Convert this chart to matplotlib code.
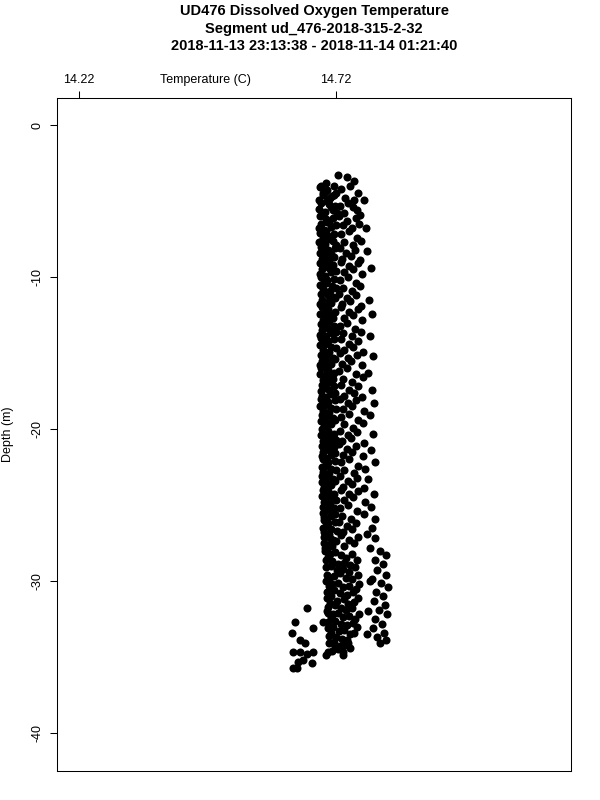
import matplotlib
matplotlib.use("Agg")
import matplotlib.pyplot as plt

plt.rcParams["font.family"] = ["Liberation Sans", "DejaVu Sans"]

title_lines = [
    "UD476 Dissolved Oxygen Temperature",
    "Segment ud_476-2018-315-2-32",
    "2018-11-13 23:13:38 - 2018-11-14 01:21:40",
]
x_ticks = [14.22, 14.72]
x_tick_labels = ["14.22", "14.72"]
y_ticks = [0, -10, -20, -30, -40]
x_label = "Temperature (C)"
y_label = "Depth (m)"

# (temperature C, depth m), grouped by region of the cloud
core_pts = [
    (14.700, -3.8), (14.690, -4.0), (14.695, -4.5), (14.716, -4.6),
    (14.688, -4.1), (14.702, -4.3), (14.715, -4.0), (14.694, -4.6), (14.709, -4.8), (14.720, -4.5), (14.686, -4.9), (14.698, -4.4), (14.712, -4.7), (14.705, -4.95),
    (14.690, -5.1), (14.703, -5.0), (14.717, -5.3), (14.687, -5.5), (14.699, -5.7), (14.711, -5.4), (14.721, -5.8), (14.693, -5.9), (14.707, -5.2), (14.714, -5.6),
    (14.688, -6.0), (14.700, -6.2), (14.713, -6.1), (14.691, -6.5), (14.706, -6.4), (14.719, -6.6), (14.686, -6.8), (14.697, -6.9), (14.710, -6.7), (14.703, -6.35),
    (14.689, -7.1), (14.701, -7.0), (14.716, -7.2), (14.694, -7.4), (14.708, -7.5), (14.687, -7.7), (14.699, -7.8), (14.713, -7.6), (14.720, -7.9), (14.705, -7.3),
    (14.690, -8.0), (14.704, -8.2), (14.718, -8.1), (14.688, -8.4), (14.697, -8.6), (14.711, -8.5), (14.693, -8.8), (14.707, -8.9), (14.715, -8.7), (14.700, -8.35),
    (14.689, -9.1), (14.702, -9.0), (14.714, -9.2), (14.692, -9.5), (14.706, -9.4), (14.719, -9.6), (14.688, -9.8), (14.699, -9.9), (14.711, -9.7), (14.696, -9.3),
    (14.691, -10.0), (14.703, -10.2), (14.716, -10.1), (14.689, -10.5), (14.700, -10.4), (14.712, -10.6), (14.694, -10.8), (14.708, -10.9), (14.720, -10.7), (14.697, -10.3),
    (14.690, -11.1), (14.701, -11.0), (14.713, -11.3), (14.693, -11.5), (14.706, -11.6), (14.688, -11.8), (14.698, -11.9), (14.710, -11.7), (14.718, -11.4), (14.704, -11.2),
    (14.692, -12.0), (14.705, -12.1), (14.717, -12.3), (14.689, -12.4), (14.699, -12.6), (14.711, -12.5), (14.694, -12.8), (14.707, -12.9), (14.714, -12.7), (14.701, -12.25),
    (14.690, -13.1), (14.702, -13.0), (14.715, -13.2), (14.693, -13.5), (14.706, -13.4), (14.719, -13.6), (14.689, -13.8), (14.700, -13.9), (14.712, -13.7), (14.697, -13.3),
    (14.691, -14.0), (14.704, -14.2), (14.716, -14.1), (14.688, -14.5), (14.699, -14.4), (14.710, -14.6), (14.694, -14.8), (14.707, -14.9), (14.719, -14.7), (14.701, -14.3),
    (14.690, -15.1), (14.703, -15.0), (14.713, -15.3), (14.692, -15.5), (14.705, -15.6), (14.689, -15.8), (14.698, -15.9), (14.711, -15.7), (14.717, -15.4), (14.701, -15.2),
    (14.691, -16.0), (14.704, -16.1), (14.716, -16.3), (14.689, -16.4), (14.700, -16.6), (14.712, -16.5), (14.695, -16.8), (14.708, -16.9), (14.714, -16.7), (14.702, -16.25),
    (14.692, -17.1), (14.702, -17.0), (14.715, -17.2), (14.690, -17.5), (14.706, -17.4), (14.718, -17.6), (14.693, -17.8), (14.700, -17.9), (14.711, -17.7), (14.697, -17.3),
    (14.691, -18.0), (14.705, -18.2), (14.717, -18.1), (14.689, -18.5), (14.699, -18.4), (14.710, -18.6), (14.694, -18.8), (14.707, -18.9), (14.720, -18.7), (14.702, -18.3),
    (14.692, -19.1), (14.703, -19.0), (14.714, -19.3), (14.690, -19.5), (14.705, -19.6), (14.696, -19.8), (14.699, -19.9), (14.711, -19.7), (14.717, -19.4), (14.701, -19.2),
    (14.693, -20.0), (14.704, -20.1), (14.716, -20.3), (14.691, -20.4), (14.700, -20.6), (14.712, -20.5), (14.695, -20.8), (14.708, -20.9), (14.719, -20.7), (14.702, -20.25),
    (14.692, -21.1), (14.702, -21.0), (14.715, -21.2), (14.694, -21.5), (14.706, -21.4), (14.718, -21.6), (14.693, -21.8), (14.700, -21.9), (14.711, -21.7), (14.697, -21.3),
    (14.694, -22.0), (14.705, -22.2), (14.717, -22.1), (14.692, -22.5), (14.699, -22.4), (14.710, -22.6), (14.695, -22.8), (14.707, -22.9), (14.720, -22.7), (14.703, -22.3),
    (14.693, -23.1), (14.703, -23.0), (14.714, -23.3), (14.692, -23.5), (14.705, -23.6), (14.697, -23.8), (14.700, -23.9), (14.711, -23.7), (14.718, -23.4), (14.701, -23.2),
    (14.694, -24.0), (14.704, -24.1), (14.716, -24.3), (14.693, -24.4), (14.700, -24.6), (14.712, -24.5), (14.696, -24.8), (14.708, -24.9), (14.719, -24.7), (14.702, -24.25),
    (14.695, -25.1), (14.703, -25.0), (14.715, -25.2), (14.694, -25.5), (14.706, -25.4), (14.718, -25.6), (14.696, -25.8), (14.701, -25.9), (14.711, -25.7), (14.698, -25.3),
    (14.696, -26.0), (14.705, -26.2), (14.717, -26.1), (14.695, -26.5), (14.700, -26.4), (14.710, -26.6), (14.697, -26.8), (14.707, -26.9), (14.721, -26.7), (14.703, -26.3),
    (14.697, -27.1), (14.704, -27.0), (14.714, -27.3), (14.696, -27.5), (14.706, -27.6), (14.699, -27.8), (14.702, -27.9), (14.712, -27.7), (14.719, -27.4), (14.709, -27.2),
]

lower_pts = [
    (14.699, -28.0), (14.708, -28.2), (14.718, -28.1), (14.729, -28.3), (14.740, -28.5), (14.751, -28.2), (14.700, -28.6), (14.712, -28.7), (14.724, -28.9), (14.735, -28.8), (14.747, -28.95), (14.704, -28.4), (14.760, -28.6),
    (14.700, -29.1), (14.710, -29.0), (14.721, -29.3), (14.733, -29.2), (14.745, -29.4), (14.756, -29.1), (14.702, -29.6), (14.715, -29.7), (14.727, -29.5), (14.739, -29.8), (14.750, -29.9), (14.706, -29.85), (14.762, -29.6),
    (14.701, -30.0), (14.712, -30.2), (14.723, -30.1), (14.734, -30.4), (14.746, -30.3), (14.758, -30.5), (14.703, -30.7), (14.716, -30.6), (14.728, -30.8), (14.741, -30.9), (14.753, -30.75), (14.707, -30.35), (14.765, -30.2),
    (14.702, -31.1), (14.711, -31.0), (14.722, -31.3), (14.735, -31.2), (14.744, -31.5), (14.755, -31.4), (14.704, -31.7), (14.717, -31.6), (14.729, -31.8), (14.740, -31.9), (14.751, -31.75), (14.709, -31.45), (14.763, -31.1),
    (14.703, -32.0), (14.713, -32.2), (14.724, -32.1), (14.733, -32.4), (14.745, -32.3), (14.757, -32.5), (14.705, -32.7), (14.718, -32.6), (14.730, -32.8), (14.742, -32.9), (14.752, -32.75), (14.710, -32.35), (14.764, -32.2),
    (14.704, -33.1), (14.714, -33.0), (14.725, -33.3), (14.736, -33.2), (14.747, -33.5), (14.706, -33.6), (14.719, -33.7), (14.731, -33.8), (14.742, -33.9), (14.755, -33.4), (14.711, -33.45), (14.760, -33.0),
    (14.707, -34.1), (14.716, -34.0), (14.728, -34.3), (14.738, -34.2), (14.748, -34.4), (14.712, -34.6), (14.723, -34.5), (14.733, -34.7), (14.744, -34.1), (14.700, -34.9),
]

right_pts = [
    (14.724, -3.3), (14.741, -3.4), (14.755, -3.7),
    (14.730, -4.2), (14.748, -4.0), (14.763, -4.5), (14.737, -4.8), (14.755, -4.9), (14.775, -4.9),
    (14.728, -5.3), (14.744, -5.1), (14.760, -5.6), (14.735, -5.8), (14.752, -5.4), (14.767, -5.9),
    (14.726, -6.0), (14.742, -6.3), (14.758, -6.1), (14.733, -6.6), (14.750, -6.8), (14.765, -6.5), (14.779, -6.8),
    (14.729, -7.2), (14.745, -7.0), (14.761, -7.4), (14.736, -7.7), (14.753, -7.9), (14.768, -7.6),
    (14.727, -8.1), (14.740, -8.4), (14.757, -8.2), (14.732, -8.8), (14.749, -8.6), (14.766, -8.9), (14.781, -8.3),
    (14.730, -9.0), (14.746, -9.3), (14.762, -9.1), (14.735, -9.7), (14.752, -9.5), (14.770, -9.8), (14.788, -9.4),
    (14.728, -10.2), (14.743, -10.0), (14.759, -10.4), (14.734, -10.7), (14.751, -10.9), (14.767, -10.6),
    (14.726, -11.1), (14.741, -11.4), (14.758, -11.2), (14.731, -11.8), (14.748, -11.6), (14.769, -11.9), (14.784, -11.5),
    (14.729, -12.0), (14.745, -12.3), (14.762, -12.1), (14.736, -12.7), (14.753, -12.5), (14.771, -12.8), (14.790, -12.4),
    (14.727, -13.2), (14.742, -13.0), (14.757, -13.4), (14.733, -13.7), (14.750, -13.9), (14.768, -13.6), (14.786, -13.9),
    (14.730, -14.1), (14.746, -14.4), (14.763, -14.2), (14.735, -14.8), (14.752, -14.6), (14.772, -14.9),
    (14.728, -15.0), (14.743, -15.3), (14.760, -15.1), (14.732, -15.7), (14.749, -15.5), (14.770, -15.8), (14.792, -15.2),
    (14.726, -16.2), (14.741, -16.0), (14.758, -16.4), (14.734, -16.7), (14.751, -16.9), (14.773, -16.6), (14.783, -16.3),
    (14.729, -17.1), (14.745, -17.4), (14.762, -17.2), (14.736, -17.8), (14.754, -17.6), (14.771, -17.9), (14.789, -17.4),
    (14.727, -18.0), (14.743, -18.3), (14.759, -18.1), (14.733, -18.7), (14.750, -18.5), (14.774, -18.8), (14.794, -18.3),
    (14.730, -19.2), (14.746, -19.0), (14.763, -19.4), (14.735, -19.7), (14.752, -19.9), (14.772, -19.6), (14.785, -19.1),
    (14.728, -20.1), (14.744, -20.4), (14.761, -20.2), (14.732, -20.8), (14.749, -20.6), (14.775, -20.9), (14.791, -20.3),
    (14.726, -21.0), (14.742, -21.3), (14.758, -21.1), (14.734, -21.7), (14.751, -21.5), (14.773, -21.8), (14.787, -21.4),
    (14.729, -22.2), (14.745, -22.0), (14.762, -22.4), (14.736, -22.7), (14.754, -22.9), (14.776, -22.6), (14.795, -22.2),
    (14.727, -23.1), (14.743, -23.4), (14.760, -23.2), (14.733, -23.8), (14.750, -23.6), (14.774, -23.9), (14.782, -23.3),
    (14.730, -24.0), (14.746, -24.3), (14.763, -24.1), (14.735, -24.7), (14.752, -24.5), (14.777, -24.8), (14.793, -24.3),
    (14.728, -25.2), (14.744, -25.0), (14.761, -25.4), (14.732, -25.7), (14.749, -25.9), (14.775, -25.6), (14.788, -25.1), (14.796, -25.9),
    (14.726, -26.1), (14.742, -26.4), (14.758, -26.2), (14.734, -26.8), (14.751, -26.6), (14.780, -26.9), (14.790, -26.5),
    (14.729, -27.0), (14.745, -27.3), (14.762, -27.1), (14.736, -27.7), (14.754, -27.5), (14.785, -27.8), (14.795, -27.2),
]

edge_pts = [
    (14.806, -28.0), (14.818, -28.3), (14.795, -28.6), (14.812, -28.9), (14.800, -29.3),
    (14.817, -29.6), (14.790, -29.9), (14.808, -30.1), (14.820, -30.4), (14.798, -30.7),
    (14.811, -31.0), (14.793, -31.3), (14.816, -31.6), (14.803, -31.9), (14.819, -32.2),
    (14.796, -32.5), (14.809, -32.8), (14.791, -33.1), (14.814, -33.4), (14.800, -33.7),
    (14.818, -33.9), (14.805, -34.1), (14.782, -32.0), (14.785, -30.0), (14.780, -33.5),
]

tail_pts = [
    (14.664, -31.8), (14.640, -32.7), (14.634, -33.4), (14.675, -33.1), (14.695, -32.7),
    (14.704, -32.1), (14.650, -33.9), (14.660, -34.1), (14.636, -34.7), (14.650, -34.7),
    (14.664, -34.8), (14.675, -34.7), (14.646, -35.3), (14.656, -35.2), (14.673, -35.4),
    (14.636, -35.7), (14.644, -35.7), (14.704, -34.7), (14.734, -34.9), (14.718, -34.3),
]

fig = plt.figure(figsize=(6, 8), dpi=100)
ax = fig.add_axes([57 / 600, 29 / 800, 514 / 600, 673 / 800])

for pts in [core_pts, lower_pts, right_pts, edge_pts, tail_pts]:
    temp = [p[0] for p in pts]
    depth = [p[1] for p in pts]
    ax.plot(temp, depth, "o", color="black", markersize=5.8, markeredgewidth=0)

ax.set_xlim(14.177, 15.177)
ax.set_ylim(-42.5, 1.78)

ax.xaxis.tick_top()
ax.set_xticks(x_ticks)
ax.set_xticklabels(x_tick_labels)
ax.set_yticks(y_ticks)
ax.set_yticklabels([str(v) for v in y_ticks], rotation=90, va="center")
ax.tick_params(axis="x", length=5, width=0.75, pad=3.5, labelsize=9)
ax.tick_params(axis="y", length=5, width=0.75, pad=5, labelsize=9)
for sp in ax.spines.values():
    sp.set_linewidth(0.75)

fig.text(205 / 600, 1 - 80 / 800, x_label, ha="center", va="center", fontsize=9)
fig.text(8 / 600, 1 - 434 / 800, y_label, rotation=90, ha="center", va="center", fontsize=9)

for i, line in enumerate(title_lines):
    fig.text(314 / 600, 1 - (11 + 17.5 * i) / 800, line, ha="center", va="center",
             fontsize=10.5, fontweight="bold")

fig.savefig("out.png", dpi=100)
